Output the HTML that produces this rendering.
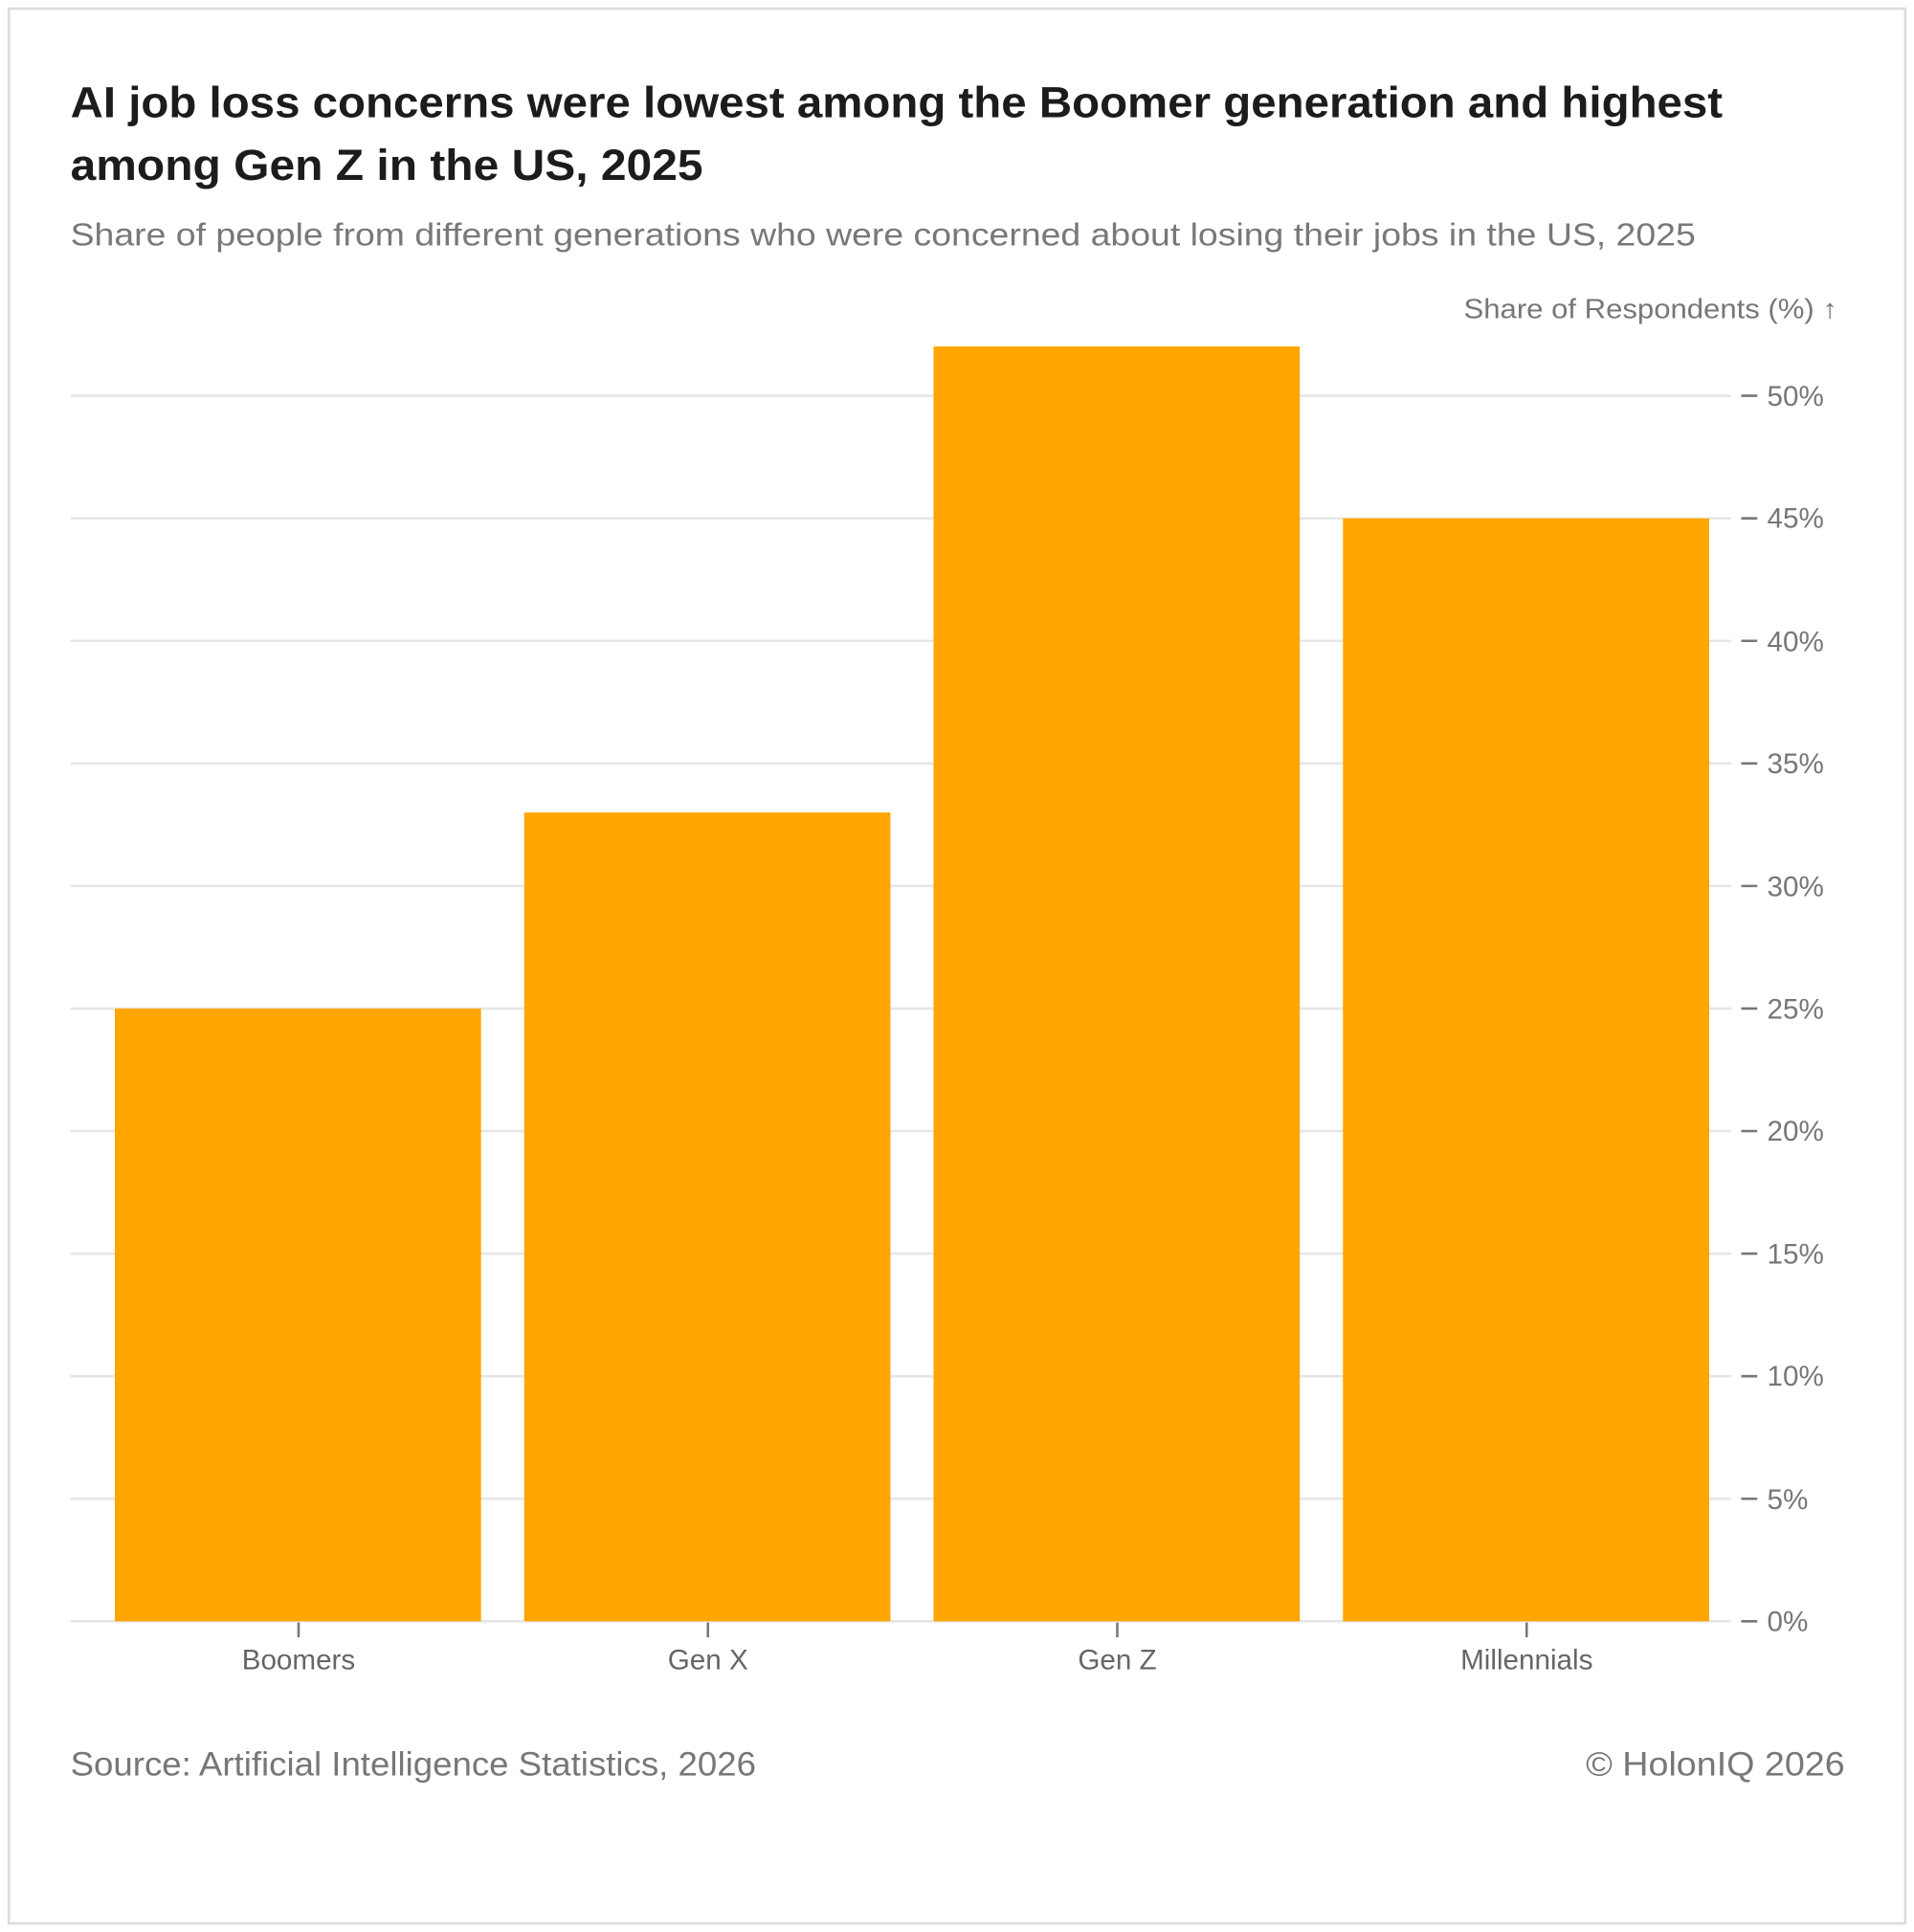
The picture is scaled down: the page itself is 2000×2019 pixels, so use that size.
<!DOCTYPE html>
<html><head><meta charset="utf-8"><style>html,body{margin:0;padding:0;background:#fff}svg{display:block}</style></head>
<body>
<svg width="2000" height="2019" viewBox="0 0 1552 1567" xmlns="http://www.w3.org/2000/svg" font-family="Liberation Sans, sans-serif">
<rect x="0" y="0" width="1552" height="1567" fill="#fff"/>
<rect x="7" y="7" width="1538" height="1553" fill="none" stroke="#dcdcdc" stroke-width="2"/>
<text x="57" y="95" font-size="35" font-weight="bold" fill="#1c1c1c" textLength="1340" lengthAdjust="spacingAndGlyphs">AI job loss concerns were lowest among the Boomer generation and highest</text>
<text x="57" y="146" font-size="35" font-weight="bold" fill="#1c1c1c" textLength="513" lengthAdjust="spacingAndGlyphs">among Gen Z in the US, 2025</text>
<text x="57" y="199" font-size="26" fill="#787878" textLength="1318" lengthAdjust="spacingAndGlyphs">Share of people from different generations who were concerned about losing their jobs in the US, 2025</text>
<text x="1187" y="258" font-size="22" fill="#777" textLength="303" lengthAdjust="spacingAndGlyphs">Share of Respondents (%) ↑</text>
<g stroke="#e6e6e6" stroke-width="2">
<line x1="57" x2="1404" y1="321" y2="321"/><line x1="57" x2="1404" y1="420.4" y2="420.4"/>
<line x1="57" x2="1404" y1="519.8" y2="519.8"/><line x1="57" x2="1404" y1="619.2" y2="619.2"/>
<line x1="57" x2="1404" y1="718.6" y2="718.6"/><line x1="57" x2="1404" y1="818" y2="818"/>
<line x1="57" x2="1404" y1="917.4" y2="917.4"/><line x1="57" x2="1404" y1="1016.8" y2="1016.8"/>
<line x1="57" x2="1404" y1="1116.2" y2="1116.2"/><line x1="57" x2="1404" y1="1215.6" y2="1215.6"/>
<line x1="57" x2="1404" y1="1315" y2="1315"/>
</g>
<g fill="#FFA500">
<rect x="93" y="818" width="297" height="497"/>
<rect x="425" y="659" width="297" height="656"/>
<rect x="757" y="281" width="297" height="1034"/>
<rect x="1089" y="420.4" width="297" height="894.6"/>
</g>
<g stroke="#777" stroke-width="2">
<line x1="1412" x2="1425" y1="321" y2="321"/><line x1="1412" x2="1425" y1="420.4" y2="420.4"/>
<line x1="1412" x2="1425" y1="519.8" y2="519.8"/><line x1="1412" x2="1425" y1="619.2" y2="619.2"/>
<line x1="1412" x2="1425" y1="718.6" y2="718.6"/><line x1="1412" x2="1425" y1="818" y2="818"/>
<line x1="1412" x2="1425" y1="917.4" y2="917.4"/><line x1="1412" x2="1425" y1="1016.8" y2="1016.8"/>
<line x1="1412" x2="1425" y1="1116.2" y2="1116.2"/><line x1="1412" x2="1425" y1="1215.6" y2="1215.6"/>
<line x1="1412" x2="1425" y1="1315" y2="1315"/>
<line x1="242" x2="242" y1="1316" y2="1328"/><line x1="574" x2="574" y1="1316" y2="1328"/>
<line x1="906" x2="906" y1="1316" y2="1328"/><line x1="1238" x2="1238" y1="1316" y2="1328"/>
</g>
<g font-size="23" fill="#777">
<text x="1433" y="329">50%</text><text x="1433" y="428">45%</text><text x="1433" y="528">40%</text>
<text x="1433" y="627">35%</text><text x="1433" y="727">30%</text><text x="1433" y="826">25%</text>
<text x="1433" y="925">20%</text><text x="1433" y="1025">15%</text><text x="1433" y="1124">10%</text>
<text x="1433" y="1224">5%</text><text x="1433" y="1323">0%</text>
</g>
<g font-size="23" fill="#666" text-anchor="middle">
<text x="242" y="1354">Boomers</text><text x="574" y="1354">Gen X</text>
<text x="906" y="1354">Gen Z</text><text x="1238" y="1354">Millennials</text>
</g>
<text x="57" y="1440" font-size="27" fill="#777" textLength="556" lengthAdjust="spacingAndGlyphs">Source: Artificial Intelligence Statistics, 2026</text>
<text x="1286" y="1440" font-size="27" fill="#777" textLength="210" lengthAdjust="spacingAndGlyphs">© HolonIQ 2026</text>
</svg>
</body></html>
